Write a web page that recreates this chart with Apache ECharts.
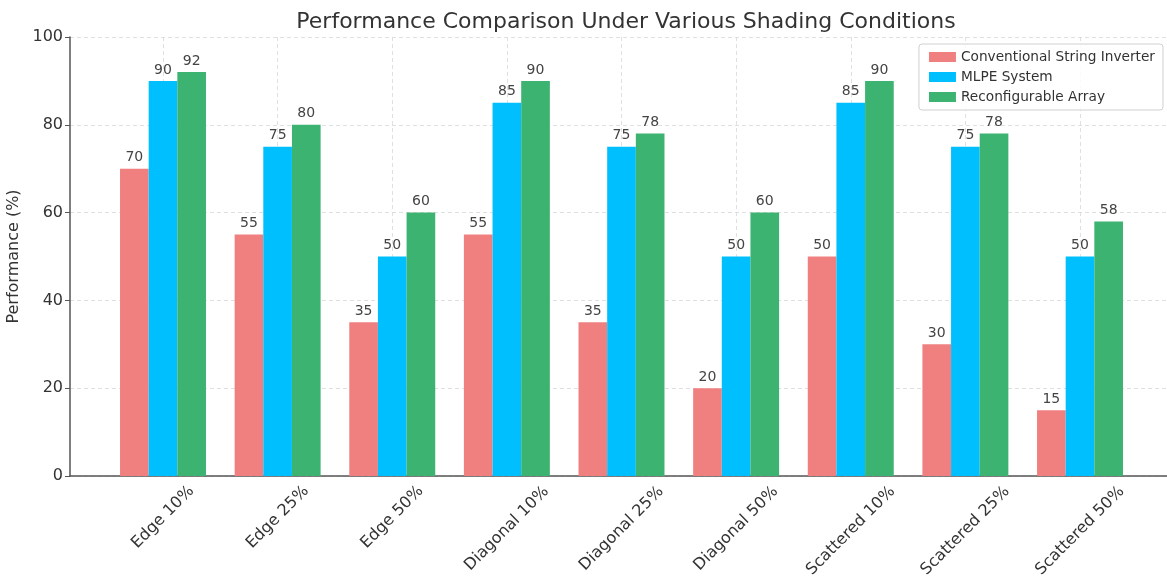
<!DOCTYPE html>
<html>
<head>
<meta charset="utf-8">
<title>Performance Comparison</title>
<script src="https://cdn.jsdelivr.net/npm/echarts@6/dist/echarts.min.js"></script>
<style>
  html, body { margin: 0; padding: 0; background: #fff; }
  #chart { width: 1167px; height: 576px; }
</style>
</head>
<body>
<div id="chart"></div>
<script>
const categories = ['Edge 10%', 'Edge 25%', 'Edge 50%', 'Diagonal 10%', 'Diagonal 25%',
  'Diagonal 50%', 'Scattered 10%', 'Scattered 25%', 'Scattered 50%']
const conventional = [70, 55, 35, 55, 35, 20, 50, 30, 15]
const mlpe = [90, 75, 50, 85, 75, 50, 85, 75, 50]
const reconfigurable = [92, 80, 60, 90, 78, 60, 90, 78, 58]
const yTicks = [0, 20, 40, 60, 80, 100]

const FONT = 'DejaVu Sans'
const TEXT = '#333'
const TICK_SIZE = 16

// matplotlib centers rotated tick labels under the tick, so push longer labels further down
const ctx = document.createElement('canvas').getContext('2d')
ctx.font = TICK_SIZE + 'px "' + FONT + '"'
const rich = {}
categories.forEach((c, i) => {
  const p = Math.round(ctx.measureText(c).width / 2)
  rich['c' + i] = { fontSize: TICK_SIZE, fontFamily: FONT, color: TEXT, padding: [p, p, 0, 0] }
})

const barLabel = {
  show: true,
  position: 'top',
  distance: 4,
  fontSize: 14,
  fontFamily: FONT,
  color: '#444'
}

const makeSeries = (name, data, color) => ({
  name: name,
  type: 'bar',
  xAxisIndex: 1,
  yAxisIndex: 1,
  data: data,
  barWidth: '25%',
  barGap: '0%',
  clip: false,
  itemStyle: { color: color },
  label: barLabel
})

const option = {
  animation: false,
  textStyle: { fontFamily: FONT },
  title: {
    text: 'Performance Comparison Under Various Shading Conditions',
    left: 621,
    textAlign: 'center',
    top: 6,
    textStyle: { fontSize: 22, fontWeight: 'normal', color: TEXT, fontFamily: FONT }
  },
  legend: {
    orient: 'vertical',
    right: 4,
    top: 44,
    itemWidth: 27,
    itemHeight: 10,
    itemGap: 6,
    padding: [6, 8, 6, 10],
    borderColor: '#d0d0d0',
    borderWidth: 1,
    borderRadius: 3,
    backgroundColor: 'rgba(255,255,255,0.85)',
    icon: 'rect',
    textStyle: { fontSize: 13.7, color: TEXT, fontFamily: FONT },
    data: ['Conventional String Inverter', 'MLPE System', 'Reconfigurable Array']
  },
  grid: [
    { left: 70, right: 0, top: 37, bottom: 100, outerBoundsMode: 'none' },
    { left: 163, width: 917, top: 37, bottom: 100, outerBoundsMode: 'none' }
  ],
  xAxis: [
    {
      gridIndex: 0,
      type: 'value',
      min: 0,
      max: 1,
      axisLine: { show: true, lineStyle: { color: '#555', width: 1.5 } },
      axisTick: { show: false },
      axisLabel: { show: false },
      splitLine: { show: false }
    },
    {
      gridIndex: 1,
      type: 'category',
      data: categories,
      boundaryGap: false,
      axisLine: { show: false },
      axisTick: { show: true, inside: true, length: 4, lineStyle: { color: '#333' } },
      axisLabel: {
        interval: 0,
        rotate: 45,
        align: 'center',
        verticalAlign: 'middle',
        margin: 13,
        formatter: (v, i) => '{c' + i + '|' + v + '}',
        rich: rich
      },
      splitLine: { show: true, lineStyle: { color: '#d8d8d8', type: [4, 3], width: 0.8 } }
    }
  ],
  yAxis: [
    {
      gridIndex: 0,
      type: 'value',
      min: yTicks[0],
      max: yTicks[yTicks.length - 1],
      interval: 20,
      name: 'Performance (%)',
      nameLocation: 'middle',
      nameGap: 42,
      nameTextStyle: { fontSize: TICK_SIZE, color: TEXT, fontFamily: FONT },
      axisLine: { show: true, lineStyle: { color: '#555', width: 1.5 } },
      axisTick: { show: true, length: 5, lineStyle: { color: '#555' } },
      axisLabel: { fontSize: TICK_SIZE, color: TEXT, fontFamily: FONT, margin: 7 },
      splitLine: { show: true, lineStyle: { color: '#d8d8d8', type: [4, 3], width: 0.8 } }
    },
    {
      gridIndex: 1,
      type: 'value',
      min: yTicks[0],
      max: yTicks[yTicks.length - 1],
      interval: 20,
      show: false
    }
  ],
  series: [
    makeSeries('Conventional String Inverter', conventional, '#F08080'),
    makeSeries('MLPE System', mlpe, '#00BFFF'),
    makeSeries('Reconfigurable Array', reconfigurable, '#3CB371')
  ]
}

const chart = echarts.init(document.getElementById('chart'))
chart.setOption(option)
window.addEventListener('resize', () => chart.resize())
</script>
</body>
</html>
